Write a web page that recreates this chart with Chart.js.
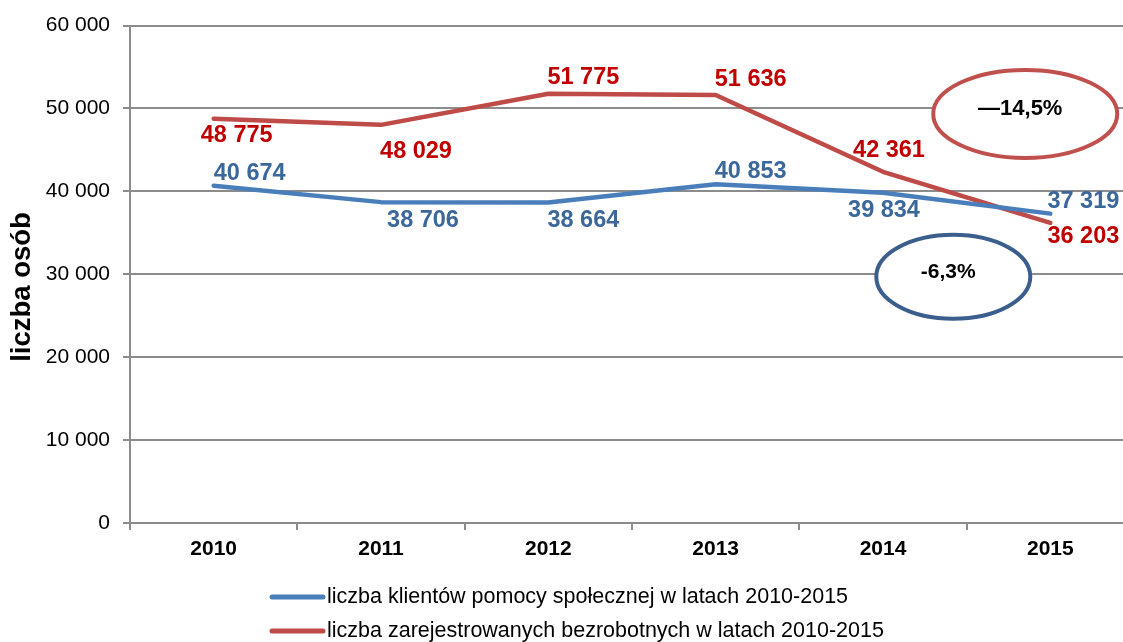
<!DOCTYPE html>
<html>
<head>
<meta charset="utf-8">
<script src="https://cdn.jsdelivr.net/npm/chart.js@4.4.0/dist/chart.umd.min.js"></script>
<style>
  html, body { margin: 0; padding: 0; background: #fff; overflow: hidden; }
  #wrap { position: relative; width: 1134px; height: 642px; }
</style>
</head>
<body>
<div id="wrap"><canvas id="chart"></canvas></div>
<script>
const years = ['2010', '2011', '2012', '2013', '2014', '2015'];
const klienci = [40674, 38706, 38664, 40853, 39834, 37319];
const bezrobotni = [48775, 48029, 51775, 51636, 42361, 36203];
const yTicks = [0, 10000, 20000, 30000, 40000, 50000, 60000];
const seriesNames = [
  'liczba klientów pomocy społecznej w latach 2010-2015',
  'liczba zarejestrowanych bezrobotnych w latach 2010-2015'
];
const yTitle = 'liczba osób';
const changes = ['-6,3%', '\u201414,5%'];

const FONT = "'Liberation Sans', Arial, sans-serif";
const BLUE = '#4A7EBB', RED = '#BE4B48';
const BLUE_TXT = '#3B679B', RED_TXT = '#C00000';
const GRID = '#8C8C8C';

const fmt = v => String(v).replace(/\B(?=(\d{3})+(?!\d))/g, ' ');

// label offsets (px) from each point, per series
const labelOffsets = [
  [[36, -12], [42, 18], [35, 18], [35, -13], [1, 18], [33, -12]],
  [[23, 17], [35, 27], [35, -16], [35, -15], [6, -21], [33, 14]]
];

const labelsPlugin = {
  id: 'pointLabels',
  afterDatasetsDraw(chart) {
    const ctx = chart.ctx;
    ctx.save();
    ctx.font = 'bold 23.5px ' + FONT;
    ctx.textAlign = 'center';
    ctx.textBaseline = 'middle';
    chart.data.datasets.forEach((ds, i) => {
      const meta = chart.getDatasetMeta(i);
      ctx.fillStyle = i === 0 ? BLUE_TXT : RED_TXT;
      meta.data.forEach((pt, j) => {
        const o = labelOffsets[i][j];
        ctx.fillText(fmt(ds.data[j]), pt.x + o[0], pt.y + o[1]);
      });
    });
    ctx.restore();
  }
};

// ellipses with percentage change: [x index, y value, rx, ry, color, text, font size]
const ellipses = [
  [4.42, 29700, 77, 42, '#3B5E8C', changes[0], 21],
  [4.85, 49350, 92, 44, '#C0504D', changes[1], 22]
];

const ellipsePlugin = {
  id: 'ellipses',
  afterDatasetsDraw(chart) {
    const ctx = chart.ctx;
    const xs = chart.scales.x, ys = chart.scales.y;
    ctx.save();
    ellipses.forEach(e => {
      const cx = xs.getPixelForValue(e[0]);
      const cy = ys.getPixelForValue(e[1]);
      ctx.beginPath();
      ctx.ellipse(cx, cy, e[2], e[3], 0, 0, Math.PI * 2);
      ctx.fillStyle = '#fff';
      ctx.fill();
      ctx.lineWidth = 4;
      ctx.strokeStyle = e[4];
      ctx.stroke();
      ctx.fillStyle = '#000';
      ctx.font = 'bold ' + e[6] + 'px ' + FONT;
      ctx.textAlign = 'center';
      ctx.textBaseline = 'middle';
      ctx.fillText(e[5], cx - 5, cy - 5);
    });
    ctx.restore();
  }
};

// y axis title and legend, drawn by hand
const extrasPlugin = {
  id: 'extras',
  afterDraw(chart) {
    const ctx = chart.ctx;
    ctx.save();
    ctx.translate(22, 287);
    ctx.rotate(-Math.PI / 2);
    ctx.font = 'bold 27.5px ' + FONT;
    ctx.fillStyle = '#000';
    ctx.textAlign = 'center';
    ctx.textBaseline = 'middle';
    ctx.fillText(yTitle, 0, 0);
    ctx.restore();

    ctx.save();
    ctx.font = '21.5px ' + FONT;
    ctx.textBaseline = 'middle';
    ctx.textAlign = 'left';
    const rows = [597, 631];
    chart.data.datasets.forEach((ds, i) => {
      const y = rows[i];
      ctx.beginPath();
      ctx.moveTo(272, y);
      ctx.lineTo(323, y);
      ctx.lineWidth = 5;
      ctx.lineCap = 'round';
      ctx.strokeStyle = ds.borderColor;
      ctx.stroke();
      ctx.fillStyle = '#000';
      ctx.fillText(ds.label, 327, y);
    });
    ctx.restore();
  }
};

new Chart(document.getElementById('chart'), {
  type: 'line',
  data: {
    labels: years,
    datasets: [
      { label: seriesNames[0], data: klienci, borderColor: BLUE, backgroundColor: BLUE },
      { label: seriesNames[1], data: bezrobotni, borderColor: RED, backgroundColor: RED }
    ]
  },
  options: {
    responsive: true,
    maintainAspectRatio: false,
    animation: false,
    events: [],
    layout: { padding: { top: 23, right: 0, bottom: 79, left: 0 } },
    elements: {
      line: { borderWidth: 4.5, tension: 0, borderCapStyle: 'round', borderJoinStyle: 'round' },
      point: { radius: 0 }
    },
    plugins: {
      legend: { display: false },
      tooltip: { enabled: false }
    },
    scales: {
      x: {
        offset: true,
        grid: { offset: true, drawOnChartArea: false, color: GRID, tickLength: 7, lineWidth: 2 },
        border: { color: GRID, width: 2 },
        ticks: { color: '#000', font: { family: FONT, size: 21, weight: 'bold' }, padding: 7 },
        afterFit(s) { s.height = 40; }
      },
      y: {
        min: 0,
        max: 60000,
        afterBuildTicks(s) { s.ticks = yTicks.map(v => ({ value: v })); },
        grid: { color: GRID, tickLength: 7, lineWidth: 2 },
        border: { color: GRID, width: 2 },
        ticks: { color: '#000', font: { family: FONT, size: 21 }, padding: 13, callback: v => fmt(v) },
        afterFit(s) { s.width = 130; }
      }
    }
  },
  plugins: [ellipsePlugin, labelsPlugin, extrasPlugin]
});
</script>
</body>
</html>
